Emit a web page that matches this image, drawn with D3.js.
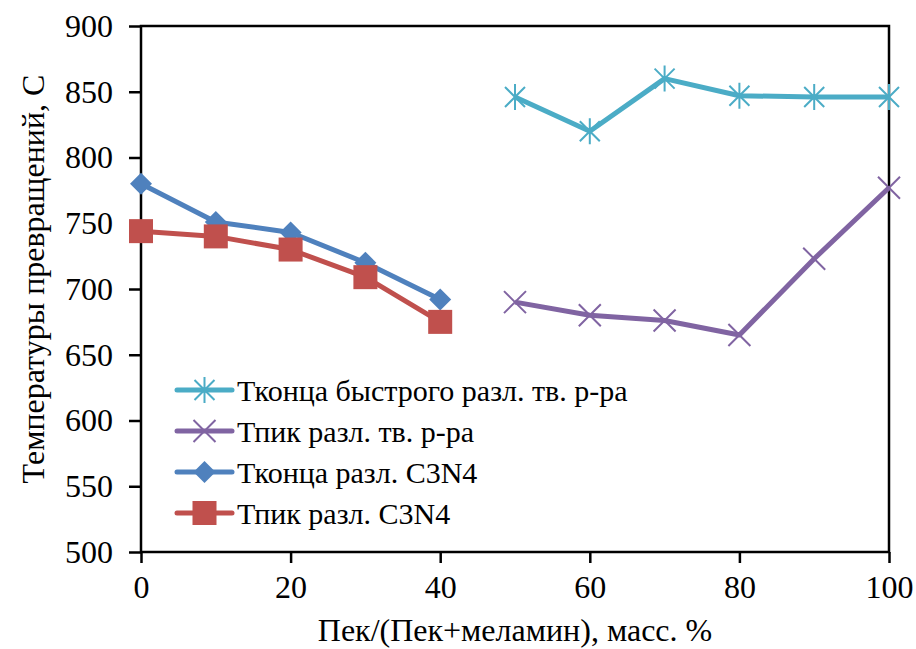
<!DOCTYPE html>
<html>
<head>
<meta charset="UTF-8">
</head>
<body style="margin:0">
<svg id="chart" width="916" height="649"></svg>
<script src="https://cdn.jsdelivr.net/npm/d3@7/dist/d3.min.js"></script>
<script>
// data
const xLeft = [0, 10, 20, 30, 40];
const xRight = [50, 60, 70, 80, 90, 100];
const tEndC3N4 = [780, 751, 743, 720, 692];
const tPeakC3N4 = [744, 740, 730, 709, 675];
const tEndFast = [846, 820, 860, 847, 846, 846];
const tPeakSol = [690, 680, 676, 665, 723, 777];
const xTicks = [0, 20, 40, 60, 80, 100];
const yTicks = [500, 550, 600, 650, 700, 750, 800, 850, 900];

const series = [
  { name: 'Тконца быстрого разл. тв. р-ра', xs: xRight, ys: tEndFast, color: '#4BACC6', marker: 'star' },
  { name: 'Тпик разл. тв. р-ра', xs: xRight, ys: tPeakSol, color: '#8064A2', marker: 'cross' },
  { name: 'Тконца разл. C3N4', xs: xLeft, ys: tEndC3N4, color: '#4F81BD', marker: 'diamond' },
  { name: 'Тпик разл. C3N4', xs: xLeft, ys: tPeakC3N4, color: '#C0504D', marker: 'square' }
];

const svg = d3.select('#chart');
const m = { left: 141, right: 27, top: 26, bottom: 97 };
const W = 916, H = 649;
const x = d3.scaleLinear().domain([0, 100]).range([m.left, W - m.right]);
const y = d3.scaleLinear().domain([500, 900]).range([H - m.bottom, m.top]);

// frame
svg.append('rect')
  .attr('x', x(0)).attr('y', y(900))
  .attr('width', x(100) - x(0)).attr('height', y(500) - y(900))
  .attr('fill', 'none').attr('stroke', '#000').attr('stroke-width', 2.5);

const yAxis = svg.append('g').attr('transform', `translate(${x(0)},0)`)
  .call(d3.axisLeft(y).tickValues(yTicks).tickSize(12).tickPadding(16));
const xAxis = svg.append('g').attr('transform', `translate(0,${y(500)})`)
  .call(d3.axisBottom(x).tickValues(xTicks).tickSize(11).tickPadding(12));
[yAxis, xAxis].forEach(g => {
  g.attr('font-family', 'Times New Roman').attr('font-size', 32);
  g.select('.domain').remove();
  g.selectAll('line').attr('stroke', '#000').attr('stroke-width', 2.5);
  g.selectAll('text').attr('fill', '#000')
    .attr('font-family', 'Times New Roman').attr('font-size', 32);
});
xAxis.selectAll('text').attr('dy', '0.71em');

// marker shapes
function drawMarker(g, type, color) {
  if (type === 'square') {
    g.append('rect').attr('x', -12).attr('y', -12).attr('width', 24).attr('height', 24)
      .attr('fill', color);
  } else if (type === 'diamond') {
    g.append('path').attr('d', 'M0,-11L11,0L0,11L-11,0Z').attr('fill', color);
  } else if (type === 'cross') {
    g.append('path').attr('d', 'M-11,-11L11,11M-11,11L11,-11')
      .attr('stroke', color).attr('stroke-width', 2).attr('fill', 'none');
  } else {
    g.append('path').attr('d', 'M-10,-10L10,10M-10,10L10,-10M0,-13L0,13')
      .attr('stroke', color).attr('stroke-width', 2).attr('fill', 'none');
  }
}

const line = d3.line().x(d => x(d[0])).y(d => y(d[1]));
series.forEach(s => {
  const pts = s.xs.map((v, i) => [v, s.ys[i]]);
  svg.append('path').datum(pts).attr('d', line)
    .attr('fill', 'none').attr('stroke', s.color).attr('stroke-width', 5)
    .attr('stroke-linejoin', 'round');
  pts.forEach(p => {
    drawMarker(svg.append('g').attr('transform', `translate(${x(p[0])},${y(p[1])})`), s.marker, s.color);
  });
});

// legend
const legend = svg.append('g');
series.forEach((s, i) => {
  const cy = 390 + i * 41;
  legend.append('line').attr('x1', 177).attr('x2', 232).attr('y1', cy).attr('y2', cy)
    .attr('stroke', s.color).attr('stroke-width', 5).attr('stroke-linecap', 'round');
  drawMarker(legend.append('g').attr('transform', `translate(204.5,${cy})`), s.marker, s.color);
  legend.append('text').attr('x', 237).attr('y', cy).attr('dy', '0.35em')
    .attr('fill', '#000').attr('font-family', 'Times New Roman').attr('font-size', 30)
    .text(s.name);
});

// axis titles
svg.append('text').attr('x', (x(0) + x(100)) / 2).attr('y', 641)
  .attr('text-anchor', 'middle').attr('fill', '#000')
  .attr('font-family', 'Times New Roman').attr('font-size', 32)
  .text('Пек/(Пек+меламин), масс. %');
svg.append('text').attr('transform', `translate(33,${(y(500) + y(900)) / 2 - 10}) rotate(-90)`)
  .attr('text-anchor', 'middle').attr('dy', '0.35em').attr('fill', '#000')
  .attr('font-family', 'Times New Roman').attr('font-size', 32)
  .text('Температуры превращений, С');
</script>
</body>
</html>
